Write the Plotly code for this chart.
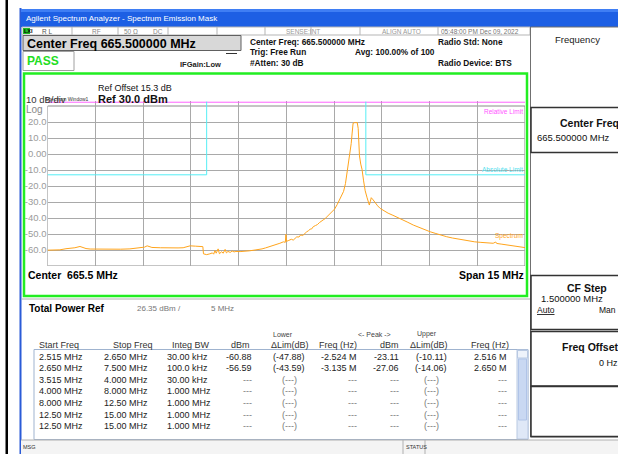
import plotly.graph_objects as go

W, H = 618, 454
FONT = "Liberation Sans, Arial, sans-serif"

# ---------------- data ----------------
spec_freq = [658.00, 658.20, 658.39, 658.58, 658.75, 658.86, 659.02, 659.10, 659.21, 659.34, 659.60, 659.96,
             660.30, 660.59, 660.91, 661.05, 661.13, 661.20, 661.28, 661.55, 661.85, 662.10, 662.26, 662.40,
             662.48, 662.65, 662.88, 662.90, 663.00, 663.10, 663.18, 663.22, 663.26, 663.30, 663.36, 663.40,
             663.47, 663.52, 663.58, 663.62, 663.67, 663.74, 663.80, 663.86, 663.92, 664.05, 664.20, 664.35,
             664.52, 664.63, 664.74, 664.85, 664.99, 665.10, 665.24, 665.30, 665.41, 665.47, 665.49, 665.51,
             665.58, 665.66, 665.72, 665.78, 665.83, 665.90, 665.95, 666.02, 666.08, 666.14, 666.20, 666.25,
             666.30, 666.35, 666.42, 666.48, 666.54, 666.60, 666.66, 666.72, 666.78, 666.83, 666.87, 666.94,
             667.02, 667.10, 667.19, 667.25, 667.30, 667.36, 667.40, 667.45, 667.50, 667.54, 667.57, 667.60,
             667.65, 667.70, 667.73, 667.76, 667.78, 667.80, 667.84, 667.88, 667.93, 667.98, 668.04, 668.08,
             668.11, 668.14, 668.17, 668.23, 668.30, 668.37, 668.45, 668.55, 668.70, 668.85, 668.97, 669.15,
             669.32, 669.49, 669.65, 669.83, 670.02, 670.20, 670.37, 670.54, 670.72, 670.90, 671.06, 671.25,
             671.42, 671.59, 671.75, 671.90, 672.00, 672.08, 672.11, 672.25, 672.40, 672.55, 672.63, 672.80,
             673.00]
spec_dbm = [-60.1, -60.0, -59.9, -59.2, -59.0, -58.6, -57.8, -58.4, -59.1, -59.4, -59.5, -59.4,
            -59.5, -59.3, -58.8, -58.2, -57.4, -58.0, -58.4, -58.6, -58.8, -58.7, -58.6, -57.9,
            -57.4, -57.6, -57.9, -62.4, -62.9, -62.4, -61.8, -62.6, -60.4, -62.0, -59.3, -62.3,
            -61.1, -62.0, -59.6, -61.8, -60.9, -61.5, -60.6, -61.2, -60.9, -61.0, -60.9, -60.5,
            -60.0, -59.8, -59.3, -58.7, -57.9, -57.2, -56.4, -55.8, -54.9, -55.2, -50.2, -54.6,
            -54.0, -53.3, -53.8, -52.4, -51.8, -51.9, -50.6, -50.9, -49.5, -48.7, -47.9, -47.0,
            -46.8, -45.4, -44.7, -44.1, -42.9, -42.3, -41.2, -40.4, -39.2, -38.3, -37.2, -36.1,
            -34.4, -31.6, -27.8, -25.1, -23.4, -18.5, -13.2, -7.6, -0.7, 6.5, 13.1, 19.3,
            19.6, 19.5, 19.6, 16.0, 5.0, -1.2, -6.3, -9.5, -16.8, -23.0, -27.4, -30.6,
            -31.9, -29.8, -27.3, -28.7, -30.8, -32.4, -34.0, -35.4, -37.0, -38.3, -39.3, -41.0,
            -42.7, -44.4, -45.8, -47.2, -48.6, -49.7, -50.8, -51.7, -52.5, -53.2, -53.8, -54.5,
            -54.9, -55.2, -55.4, -55.6, -55.8, -55.0, -55.9, -56.3, -56.7, -57.1, -57.3, -57.9,
            -58.5]

abs_lim_left_freq = [658.0, 663.0, 663.0]
abs_lim_left_dbm = [-13.0, -13.0, 32.8]
abs_lim_right_freq = [668.0, 668.0, 673.0]
abs_lim_right_dbm = [32.8, -13.0, -13.0]
rel_lim_freq = [658.0, 673.0]
rel_lim_dbm = [32.4, 32.4]

y_tick_vals = [20, 10, 0, -10, -20, -30, -40, -50, -60]
y_tick_text = ["20.0", "10.0", "0.00", "-10.0", "-20.0", "-30.0", "-40.0", "-50.0", "-60.0"]
x_grid_vals = [659.5, 661.0, 662.5, 664.0, 665.5, 667.0, 668.5, 670.0, 671.5]

table_rows = [
    ["2.515 MHz", "2.650 MHz", "30.00 kHz", "-60.88", "(-47.88)", "-2.524 M", "-23.11", "(-10.11)", "2.516 M"],
    ["2.650 MHz", "7.500 MHz", "100.0 kHz", "-56.59", "(-43.59)", "-3.135 M", "-27.06", "(-14.06)", "2.650 M"],
    ["3.515 MHz", "4.000 MHz", "30.00 kHz", "---", "(---)", "---", "---", "(---)", "---"],
    ["4.000 MHz", "8.000 MHz", "1.000 MHz", "---", "(---)", "---", "---", "(---)", "---"],
    ["8.000 MHz", "12.50 MHz", "1.000 MHz", "---", "(---)", "---", "---", "(---)", "---"],
    ["12.50 MHz", "15.00 MHz", "1.000 MHz", "---", "(---)", "---", "---", "(---)", "---"],
    ["12.50 MHz", "15.00 MHz", "1.000 MHz", "---", "(---)", "---", "---", "(---)", "---"],
]

# ---------------- figure ----------------
fig = go.Figure()

fig.add_trace(go.Scatter(x=rel_lim_freq, y=rel_lim_dbm, mode="lines",
                         line=dict(color="#ff55ff", width=1), hoverinfo="skip"))
fig.add_trace(go.Scatter(x=abs_lim_left_freq, y=abs_lim_left_dbm, mode="lines",
                         line=dict(color="#55eef5", width=1), hoverinfo="skip"))
fig.add_trace(go.Scatter(x=abs_lim_right_freq, y=abs_lim_right_dbm, mode="lines",
                         line=dict(color="#55eef5", width=1), hoverinfo="skip"))
fig.add_trace(go.Scatter(x=spec_freq, y=spec_dbm, mode="lines",
                         line=dict(color="#ffa41c", width=1), hoverinfo="skip"))

# plot area placement (pixels)
PX0, PX1 = 47.5, 525.0
PY_BOTTOM = 266.0
PY_TOP = 106.0 - 3 * 1.6   # y range top = 33

fig.update_layout(
    width=W, height=H, autosize=False,
    margin=dict(l=0, r=0, t=0, b=0),
    paper_bgcolor="white", plot_bgcolor="white",
    showlegend=False,
    xaxis=dict(domain=[PX0 / W, PX1 / W], range=[658, 673], tickvals=x_grid_vals,
               showticklabels=False, showgrid=True, gridcolor="#a9a9a9", gridwidth=1,
               zeroline=False, showline=False, ticks="", fixedrange=True),
    yaxis=dict(domain=[1 - PY_BOTTOM / H, 1 - PY_TOP / H], range=[-70, 33],
               tickvals=y_tick_vals, ticktext=y_tick_text, showgrid=True,
               gridcolor="#a9a9a9", gridwidth=1, zeroline=False, showline=False, ticks="",
               tickfont=dict(family=FONT, size=9.5, color="#9a9a9a"), fixedrange=True),
)

# plot border (data space)
fig.add_shape(type="rect", xref="x", yref="y", x0=658, x1=673, y0=-70, y1=30,
              line=dict(color="#8a8a8a", width=1), fillcolor="rgba(0,0,0,0)", layer="below")


def px(x):
    return x / W


def py(y):
    return 1 - y / H


def R(x0, y0, x1, y1, fill="rgba(0,0,0,0)", line=None, lw=1, layer="above"):
    fig.add_shape(type="rect", xref="paper", yref="paper", x0=px(x0), x1=px(x1), y0=py(y1), y1=py(y0),
                  fillcolor=fill, line=dict(color=line if line else "rgba(0,0,0,0)", width=lw if line else 0),
                  layer=layer)


def L(x0, y0, x1, y1, color, lw=1):
    fig.add_shape(type="line", xref="paper", yref="paper", x0=px(x0), x1=px(x1), y0=py(y0), y1=py(y1),
                  line=dict(color=color, width=lw))


def T(x, y, text, size=9, color="#000", bold=False, anchor="left", family=FONT):
    fig.add_annotation(x=px(x), y=py(y), xref="paper", yref="paper",
                       text=("<b>%s</b>" % text) if bold else text, showarrow=False,
                       xanchor=anchor, yanchor="middle", borderpad=0,
                       font=dict(size=size, color=color, family=family))


# outer window chrome
R(5.5, 0, 8, 454, fill="#000000")
R(19.5, 8, 21.5, 454, fill="#2a5bd7")
R(21, 9, 618, 27, fill="#1d5fe4")
R(21, 9, 618, 12, fill="#3f7ef4")
T(25, 18.5, "Agilent Spectrum Analyzer - Spectrum Emission Mask", size=8, color="white")

# status row
R(22, 27, 530, 35, fill="white", line="#b5b5b5", lw=1)
for xs in [72, 118, 168, 217, 265, 311, 360, 438]:
    L(xs, 27, xs, 35, "#b5b5b5")
R(23, 28, 30, 34, fill="#22bb22")
T(23, 31.2, "LXI", size=5.5, color="#000", bold=True)
T(41, 31.2, "R L", size=6.5, color="#555")
T(91, 31.2, "RF", size=6.5, color="#888")
T(123, 31.2, "50 Ω", size=6.5, color="#888")
T(152, 31.2, "DC", size=6.5, color="#888")
T(285, 31.2, "SENSE:INT", size=6.5, color="#999")
T(381, 31.2, "ALIGN AUTO", size=6.5, color="#999")
T(440, 31.2, "05:48:00 PM Dec 09, 2022", size=6.5, color="#777")

# center freq box / pass box
R(23, 35.5, 241, 50.5, fill="#d8d8d8", line="#606060")
T(26, 43.5, "Center Freq 665.500000 MHz", size=12.5, bold=True)
R(23, 51.5, 74, 70.5, fill="white", line="#a0a0a0")
T(26, 61, "PASS", size=12, color="#22dd22", bold=True)
L(226, 53.5, 237, 53.5, "#333")
T(179, 64.5, "IFGain:Low", size=7.5, bold=True, color="#222")
T(249, 42, "Center Freq: 665.500000 MHz", size=8.3, bold=True, color="#111")
T(249, 52.5, "Trig: Free Run", size=8.3, bold=True, color="#111")
T(354, 52.5, "Avg: 100.00% of 100", size=8.3, bold=True, color="#111")
T(249, 63, "#Atten: 30 dB", size=8.3, bold=True, color="#111")
T(437, 42, "Radio Std: None", size=8.3, bold=True, color="#111")
T(437, 63, "Radio Device: BTS", size=8.3, bold=True, color="#111")

# green graph frame
R(24, 73.5, 527, 296, line="#22ee22", lw=2.5)
T(97, 88, "Ref Offset 15.3 dB", size=9, color="#111")
T(97, 99.5, "Ref 30.0 dBm", size=11, bold=True, color="#111")
T(25, 99.5, "10 dB/div", size=9.5, color="#333")
T(44, 99, "Spectrum Window1", size=5, color="#333")
T(25, 109.5, "Log", size=10, color="#888")
T(525, 274.5, "Span 15 MHz", size=10.5, bold=True, anchor="right")
T(27, 274.5, "Center  665.5 MHz", size=10.5, bold=True)

# limit/trace labels inside plot (data coordinates)
fig.add_annotation(x=673, y=29.8, xref="x", yref="y", text="Relative Limit", showarrow=False,
                   xanchor="right", yanchor="top", font=dict(size=6.5, color="#ff55ff", family=FONT))
fig.add_annotation(x=673, y=-9.5, xref="x", yref="y", text="Absolute Limit", showarrow=False,
                   xanchor="right", yanchor="middle", font=dict(size=6.5, color="#55e0ee", family=FONT))
fig.add_annotation(x=673, y=-51, xref="x", yref="y", text="Spectrum", showarrow=False,
                   xanchor="right", yanchor="middle", font=dict(size=6.5, color="#ffa41c", family=FONT))

# lower table panel
L(22, 299, 530, 299, "#b0b0b0")
T(28, 308, "Total Power Ref", size=10, bold=True)
T(136, 308, "26.35 dBm /", size=8, color="#777")
T(210, 308, "5 MHz", size=8, color="#777")

T(283, 334, "Lower", size=7, color="#444", anchor="center")
T(374, 334, "<- Peak ->", size=7, color="#444", anchor="center")
T(427, 334, "Upper", size=7, color="#444", anchor="center")
T(38, 345, "Start Freq", size=9, color="#333")
T(112, 345, "Stop Freq", size=9, color="#333")
T(171, 345, "Integ BW", size=9, color="#333")
T(230, 345, "dBm", size=9, color="#333")
T(290, 345, "ΔLim(dB)", size=9, color="#333", anchor="center")
T(318, 345, "Freq (Hz)", size=9, color="#333")
T(400, 345, "dBm", size=9, color="#333", anchor="right")
T(429, 345, "ΔLim(dB)", size=9, color="#333", anchor="center")
T(470, 345, "Freq (Hz)", size=9, color="#333")

R(34, 349.5, 528, 439.5, fill="white", line="#9fb3cf")
R(517, 350, 528, 439, fill="#dfe8f7", line="#b9c9e2")
R(517.5, 350.5, 527.5, 358, fill="#eef3fb", line="#b9c9e2")
R(518.5, 359, 526.5, 420, fill="#c9d8f2", line="#b0c4e8")

col_x = [38, 103, 166, 253, 289, 358, 400, 431, 508]
col_anchor = ["left", "left", "left", "right", "center", "right", "right", "center", "right"]
for i, row in enumerate(table_rows):
    yy = 356.5 + i * 11.6
    for j, cell in enumerate(row):
        dash = cell in ("---", "(---)")
        T(col_x[j], yy, cell, size=9, color="#777" if dash else "#222", anchor=col_anchor[j])

# status bar
R(21, 440, 618, 454, fill="#f4f4f4")
L(21, 440, 618, 440, "#b0b0b0")
T(22, 447, "MSG", size=5.5, color="#333")
L(403, 440, 403, 454, "#b0b0b0")
L(425, 440, 425, 454, "#b0b0b0")
T(405, 446.5, "STATUS", size=5.5, color="#333")

# right softkey panel
R(530.5, 27, 619, 437, fill="white", line="#707070")
T(554, 39, "Frequency", size=9.5, color="#222")
R(531, 107.5, 619, 152.5, line="#333", lw=1.5)
T(559, 122.5, "Center Freq", size=10.5, bold=True, color="#111")
T(536, 137, "665.500000 MHz", size=9.5, color="#111")
R(531, 275.5, 619, 329.5, line="#333", lw=1.5)
T(566, 288, "CF Step", size=10.5, bold=True, color="#111")
T(540, 298.5, "1.500000 MHz", size=9.5, color="#111")
T(536, 310, "<u>Auto</u>", size=8.5, color="#111")
T(598, 310, "Man", size=8.5, color="#111")
R(531, 331.5, 619, 386, line="#333", lw=1.5)
T(561, 347, "Freq Offset", size=10.5, bold=True, color="#111")
T(598, 363, "0 Hz", size=9, color="#111")
R(531, 386.5, 619, 436.5, line="#333", lw=1.5)

fig.write_html("out.html", config={"displayModeBar": False, "staticPlot": True},
               post_script="document.body.style.margin='0';document.body.style.overflow='hidden';")
